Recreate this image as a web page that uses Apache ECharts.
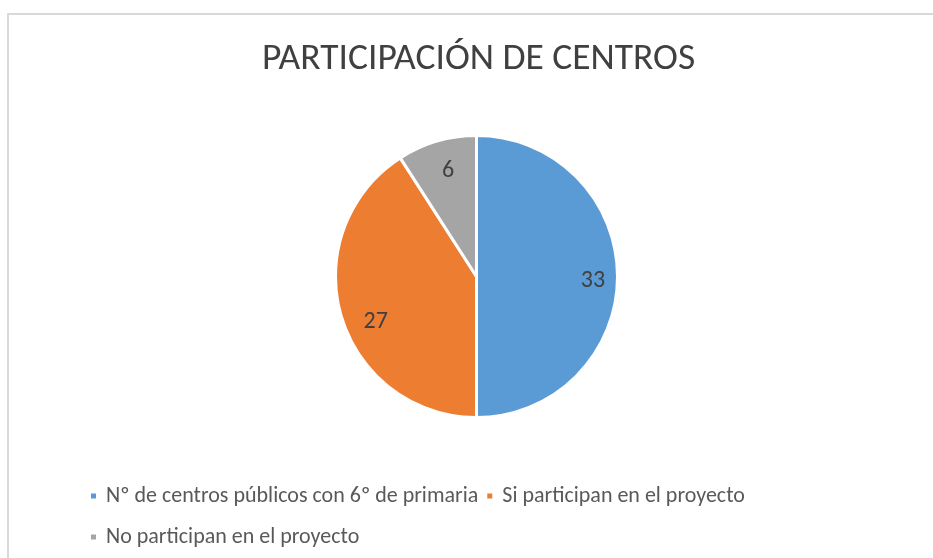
<!DOCTYPE html>
<html>
<head>
<meta charset="utf-8">
<script src="https://cdn.jsdelivr.net/npm/echarts@6/dist/echarts.min.js"></script>
<style>
  html, body { margin: 0; padding: 0; background: #ffffff; overflow: hidden; }
  /* marco del gráfico: solo se ven los bordes superior e izquierdo */
  .frame {
    position: absolute; left: 7px; top: 13px; width: 1000px; height: 1000px;
    border-left: 2px solid #d9d9d9; border-top: 2px solid #d9d9d9;
  }
  #chart { position: absolute; left: 0; top: 0; width: 933px; height: 558px; }
</style>
</head>
<body>
<div class="frame"></div>
<div id="chart"></div>
<script>
const categories = [
  'Nº de centros públicos con 6º de primaria',
  'Si participan en el proyecto',
  'No participan en el proyecto'
]
const values = [33, 27, 6]
const colors = ['#5b9bd5', '#ed7d31', '#a5a5a5']

const font = 'Carlito, Calibri, "Liberation Sans", sans-serif'
const center = [476.5, 276.5]
// ajuste fino de etiquetas (Excel las coloca con "mejor ajuste")
const labelOffsets = [[1, 4], [10, 13], [4, 5]]

const legendText = { fontFamily: font, fontSize: 22, color: '#595959', padding: [0, 0, 0, 4] }

const chart = echarts.init(document.getElementById('chart'), null, { renderer: 'canvas' })
chart.setOption({
  animation: false,
  title: {
    text: 'PARTICIPACIÓN DE CENTROS',
    left: 257,
    top: 36,
    textStyle: { fontFamily: font, fontSize: 37.5, fontWeight: 300, color: '#404040' }
  },
  legend: [
    {
      data: categories.slice(0, 2),
      left: 84,
      top: 480,
      icon: 'rect',
      itemWidth: 7,
      itemHeight: 7,
      itemGap: 7,
      textStyle: legendText
    },
    {
      data: categories.slice(2),
      left: 84,
      top: 521,
      icon: 'rect',
      itemWidth: 7,
      itemHeight: 7,
      textStyle: legendText
    }
  ],
  series: [
    {
      type: 'pie',
      center: center,
      radius: 141,
      startAngle: 90,
      clockwise: true,
      avoidLabelOverlap: false,
      silent: true,
      data: categories.map((name, i) => ({ name, value: values[i], itemStyle: { color: colors[i] } })),
      itemStyle: { borderColor: '#ffffff', borderWidth: 3 },
      label: { show: false },
      labelLine: { show: false }
    },
    {
      // serie transparente para colocar las etiquetas a ~0.8 del radio
      type: 'pie',
      center: center,
      radius: [84, 141],
      startAngle: 90,
      clockwise: true,
      avoidLabelOverlap: false,
      silent: true,
      legendHoverLink: false,
      data: categories.map((name, i) => ({ name, value: values[i], label: { offset: labelOffsets[i] } })),
      itemStyle: { color: 'rgba(0,0,0,0)', borderWidth: 0 },
      label: {
        show: true,
        position: 'inside',
        formatter: '{c}',
        fontFamily: font,
        fontSize: 24,
        color: '#404040'
      },
      labelLine: { show: false }
    }
  ]
})
</script>
</body>
</html>
